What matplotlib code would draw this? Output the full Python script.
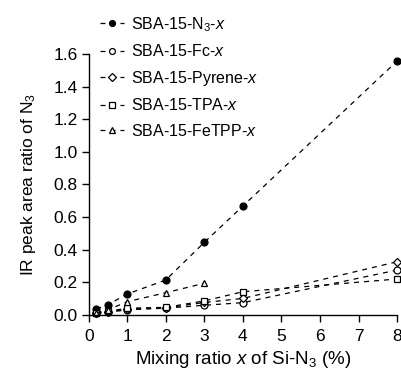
import matplotlib
matplotlib.use("Agg")
import matplotlib.pyplot as plt

plt.rcParams['font.family'] = ['Liberation Sans', 'DejaVu Sans']
plt.rcParams['mathtext.fontset'] = 'custom'
plt.rcParams['mathtext.rm'] = 'Liberation Sans'
plt.rcParams['mathtext.it'] = 'Liberation Sans:italic'

x_all = [0.2, 0.5, 1, 2, 3, 4, 8]
n3 = [0.035, 0.062, 0.127, 0.213, 0.444, 0.667, 1.556]
fc = [0.008, 0.015, 0.03, 0.04, 0.058, 0.074, 0.274]
pyrene = [0.01, 0.018, 0.035, 0.042, 0.075, 0.10, 0.325]
tpa = [0.012, 0.02, 0.04, 0.045, 0.085, 0.141, 0.219]
x_fetpp = [0.2, 0.5, 1, 2, 3]
fetpp = [0.012, 0.03, 0.08, 0.135, 0.193]

labels = [r'SBA-15-N$_3$-$\mathit{x}$', r'SBA-15-Fc-$\mathit{x}$',
          r'SBA-15-Pyrene-$\mathit{x}$', r'SBA-15-TPA-$\mathit{x}$',
          r'SBA-15-FeTPP-$\mathit{x}$']

fig = plt.figure(figsize=(4.02, 3.72), dpi=100)
ax = fig.add_axes([0.2207, 0.154, 0.767, 0.701])

dash = (0, (4, 4))
common = dict(color='black', lw=0.9, linestyle=dash, clip_on=False,
              markeredgecolor='black', markeredgewidth=0.9)
h1, = ax.plot(x_all, n3, marker='o', ms=5, markerfacecolor='black', **common)
h2, = ax.plot(x_all, fc, marker='o', ms=5, markerfacecolor='white', **common)
h3, = ax.plot(x_all, pyrene, marker='D', ms=4.5, markerfacecolor='white', **common)
h4, = ax.plot(x_all, tpa, marker='s', ms=5, markerfacecolor='white', **common)
h5, = ax.plot(x_fetpp, fetpp, marker='^', ms=5, markerfacecolor='white', **common)

ax.set_xlim(0, 8)
ax.set_ylim(0, 1.6)
ax.set_xticks(range(0, 9))
ax.set_yticks([0.0, 0.2, 0.4, 0.6, 0.8, 1.0, 1.2, 1.4, 1.6])
ax.set_yticklabels(['0.0', '0.2', '0.4', '0.6', '0.8', '1.0', '1.2', '1.4', '1.6'])
for s in ['top', 'right']:
    ax.spines[s].set_visible(False)
for s in ['left', 'bottom']:
    ax.spines[s].set_linewidth(1.0)
ax.tick_params(direction='out', length=5, width=1.0, labelsize=12.5, pad=3)
ax.tick_params(axis='x', pad=5)

ax.set_xlabel(r'Mixing ratio $\mathit{x}$ of Si-N$_3$ (%)', fontsize=13.5, labelpad=4)
ax.set_ylabel(r'IR peak area ratio of N$_3$', fontsize=12.5, labelpad=11)

fig.legend([h1, h2, h3, h4, h5], labels, loc='upper left',
           bbox_to_anchor=(0.248, 0.96), frameon=False, fontsize=11.5,
           handlelength=1.55, handletextpad=0.4, labelspacing=0.6,
           borderaxespad=0, borderpad=0, markerscale=0.85)

fig.savefig('out.png', dpi=100)
